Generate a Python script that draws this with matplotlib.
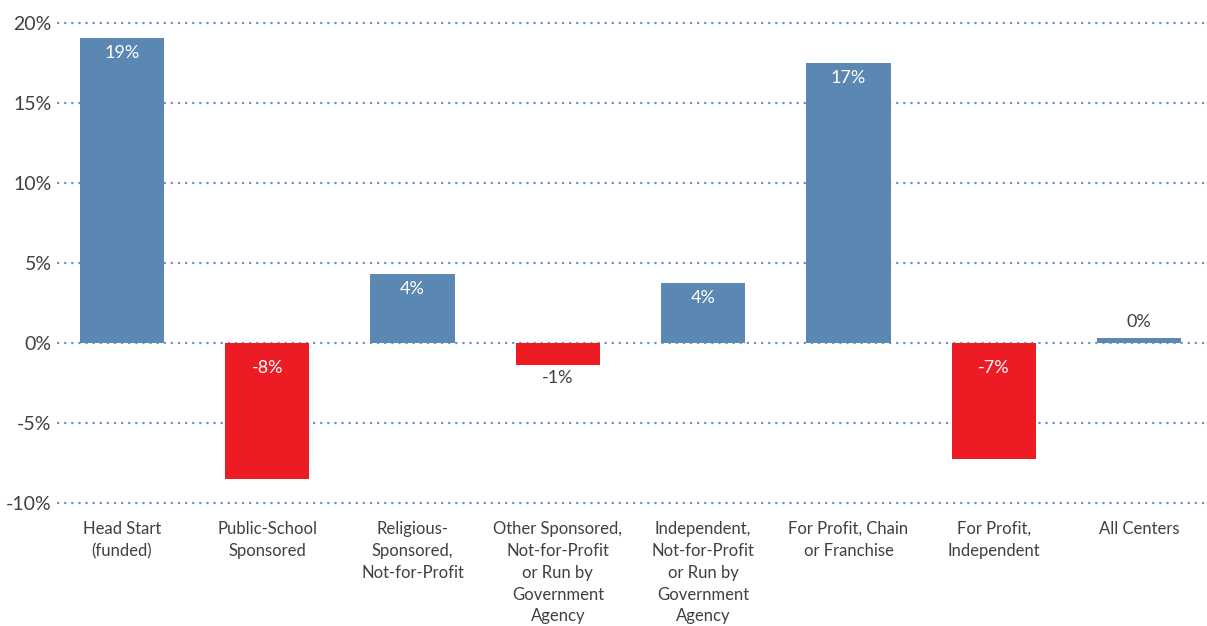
import matplotlib.pyplot as plt
from matplotlib import font_manager

categories = ["Head Start\n(funded)", "Public-School\nSponsored", "Religious-\nSponsored,\nNot-for-Profit",
              "Other Sponsored,\nNot-for-Profit\nor Run by\nGovernment\nAgency",
              "Independent,\nNot-for-Profit\nor Run by\nGovernment\nAgency",
              "For Profit, Chain\nor Franchise", "For Profit,\nIndependent", "All Centers"]
values = [19.05, -8.5, 4.3, -1.4, 3.75, 17.5, -7.25, 0.3]
labels = ["19%", "-8%", "4%", "-1%", "4%", "17%", "-7%", "0%"]
yticks = [-10, -5, 0, 5, 10, 15, 20]

BLUE = "#5b88b2"
GRID = "#6b95c0"
RED = "#ed1c24"
TXT = "#404040"

fams = [f.name for f in font_manager.fontManager.ttflist]
plt.rcParams['font.family'] = ['Lato', 'DejaVu Sans'] if 'Lato' in fams else ['DejaVu Sans']

fig = plt.figure(figsize=(12.07, 6.26), dpi=100)
ax = fig.add_axes([57 / 1207, 1 - 503 / 626, (1205 - 57) / 1207, 480 / 626])

x = list(range(len(values)))
colors = [BLUE if v >= 0 else RED for v in values]
ax.bar(x, values, width=0.58, color=colors, zorder=3)

for t in yticks:
    ax.axhline(t, color=GRID, lw=1.6, ls=(0, (1, 2.2)), zorder=1, clip_on=False)

ax.set_xlim(-0.447, 7.454)
ax.set_ylim(-10, 20)
ax.set_yticks(yticks)
ax.set_yticklabels([f"{t}%" for t in yticks], fontsize=14, color=TXT)
ax.set_xticks(x)
ax.set_xticklabels(categories, fontsize=12, color=TXT, linespacing=1.45, va="top")
ax.tick_params(axis="both", length=0)
ax.tick_params(axis="y", pad=4)
ax.tick_params(axis="x", pad=13)
for s in ax.spines.values():
    s.set_visible(False)

for xi, v, lab in zip(x, values, labels):
    if abs(v) < 1:
        ax.annotate(lab, (xi, v), xytext=(0, 12), textcoords="offset points",
                    ha="center", va="center", fontsize=13, color=TXT)
    elif abs(v) < 2:
        ax.annotate(lab, (xi, v), xytext=(0, -9), textcoords="offset points",
                    ha="center", va="center", fontsize=13, color=TXT)
    elif v > 0:
        ax.annotate(lab, (xi, v), xytext=(0, -11), textcoords="offset points",
                    ha="center", va="center", fontsize=13, color="white")
    else:
        ax.annotate(lab, (xi, 0), xytext=(0, -18), textcoords="offset points",
                    ha="center", va="center", fontsize=13, color="white")

fig.savefig("out.png", dpi=100)
